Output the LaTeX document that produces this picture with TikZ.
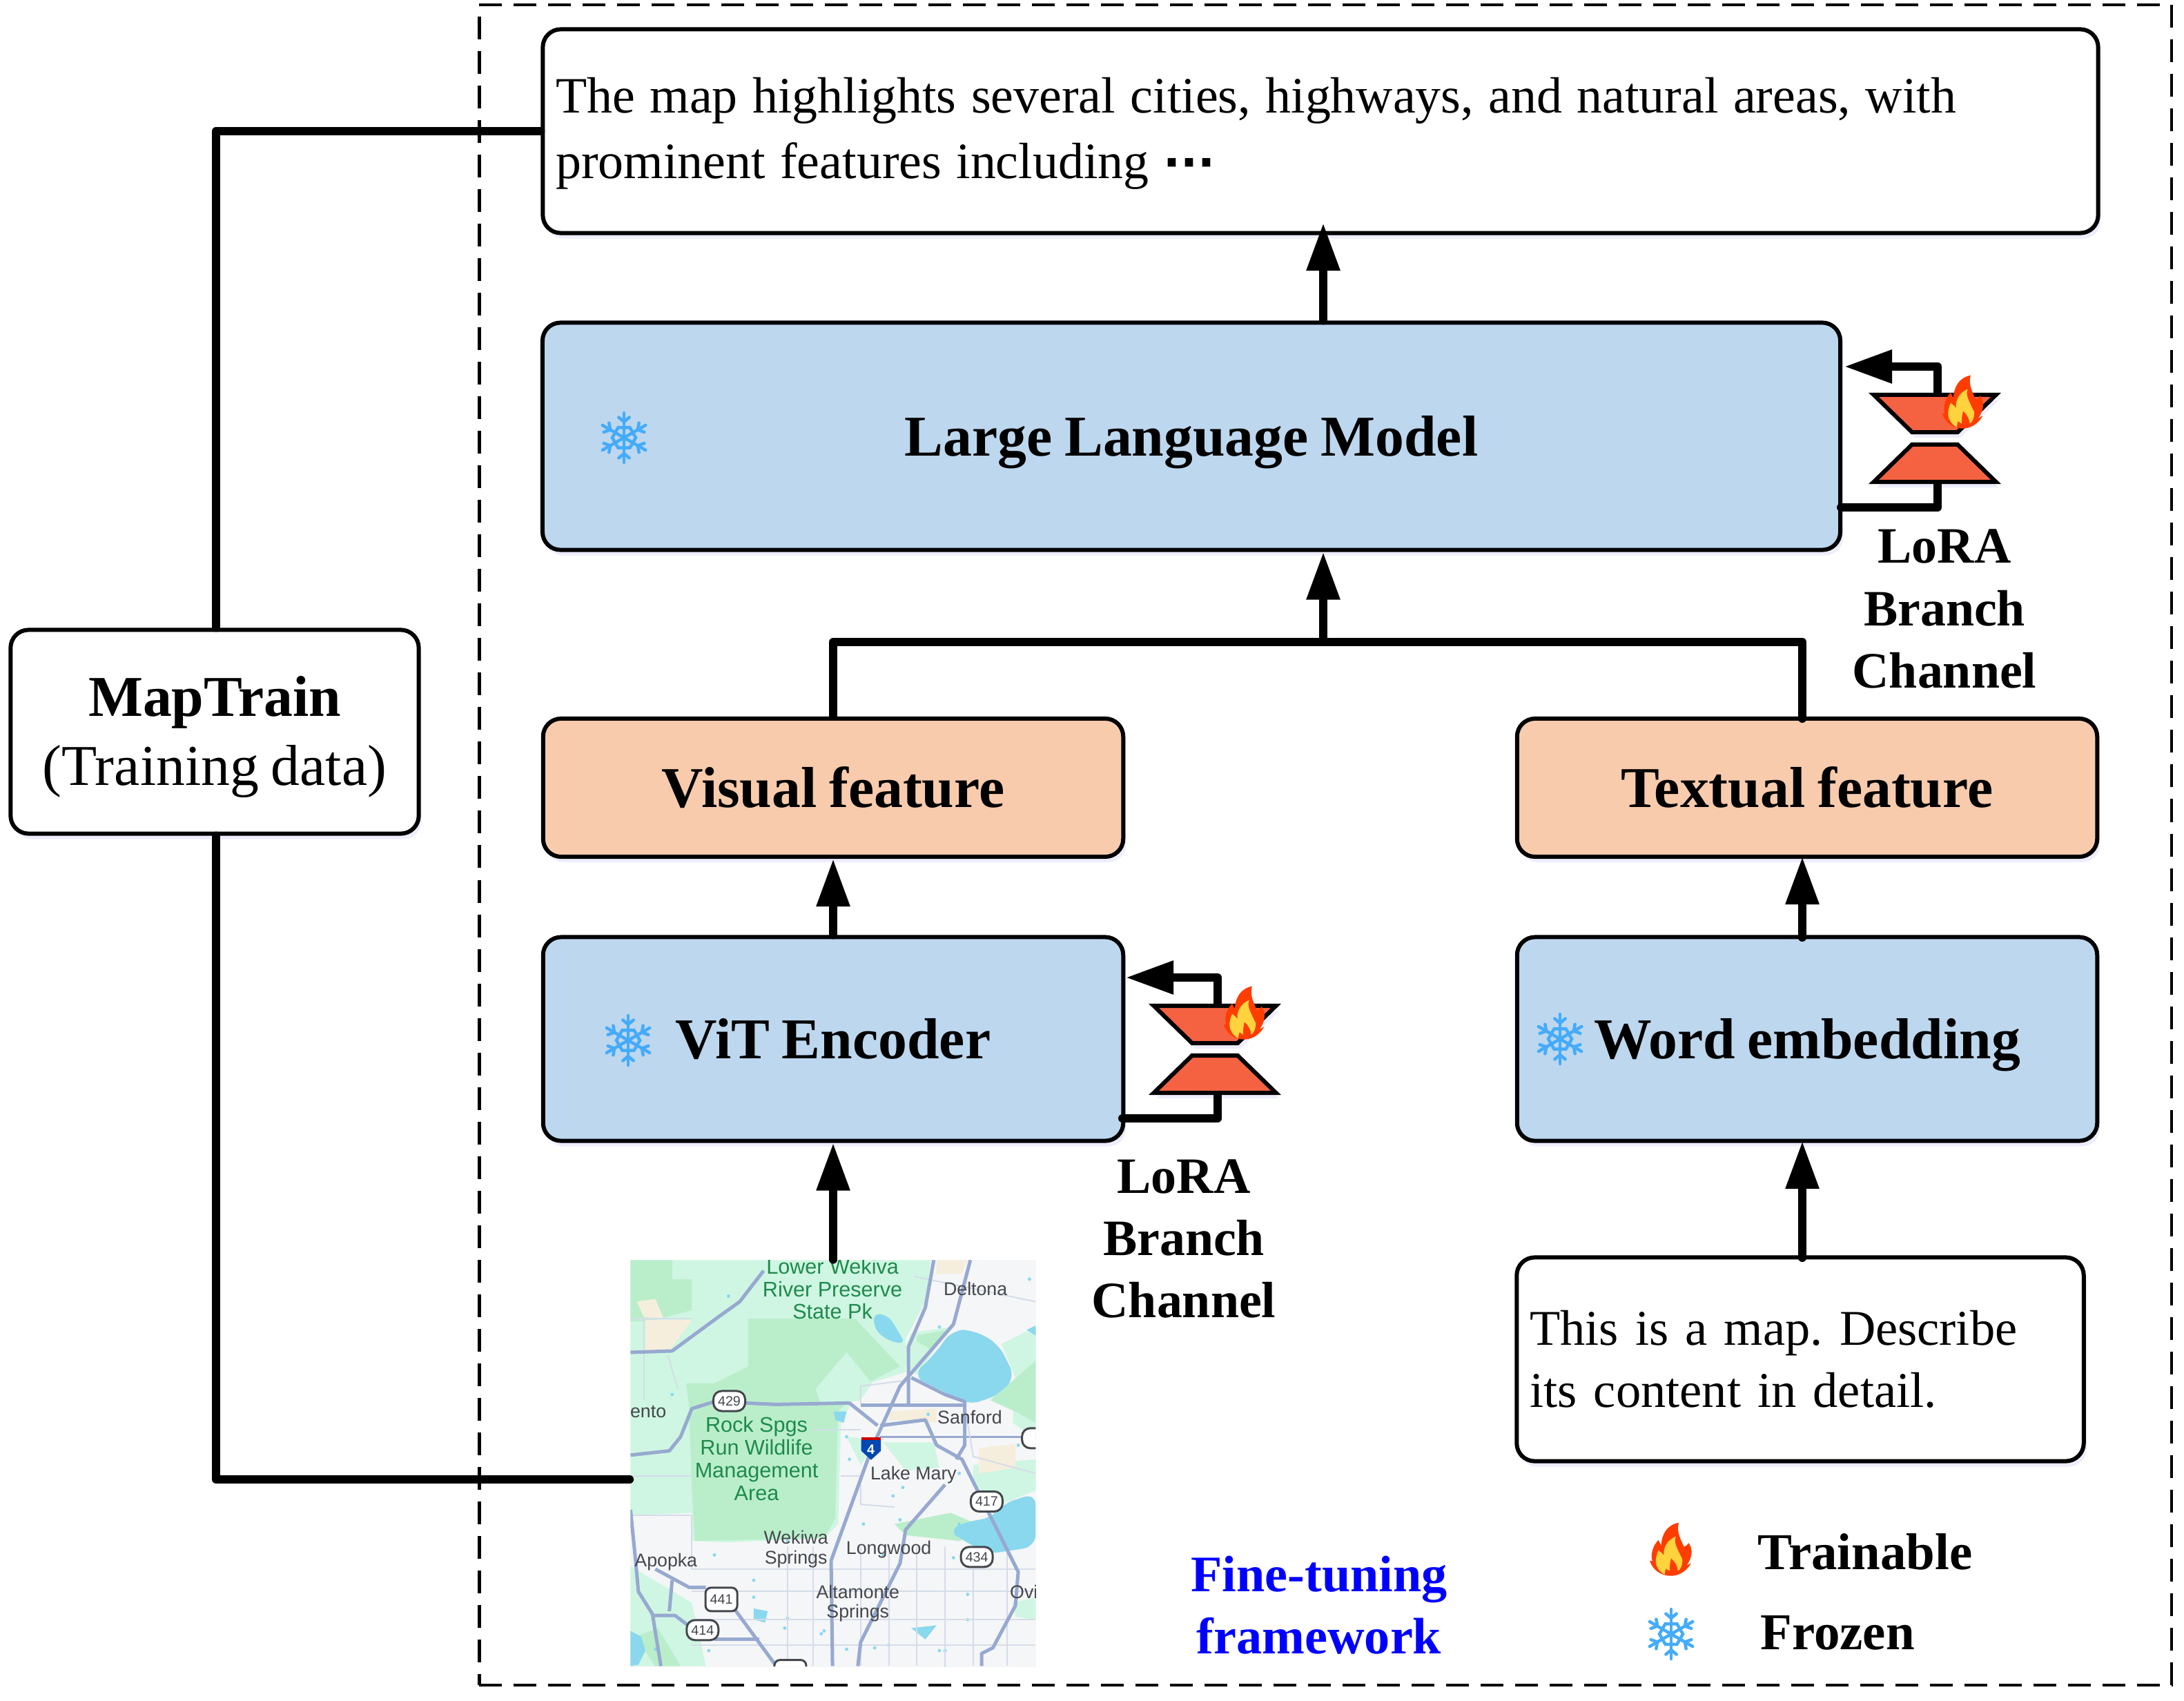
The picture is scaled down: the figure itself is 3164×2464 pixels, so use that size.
\documentclass[tikz,border=0pt]{standalone}
\usepackage{fontspec}
\setmainfont{Liberation Serif}[WordSpace=0.85]
\newfontfamily\mapfont{Liberation Sans}
\newfontfamily\dotfont{DejaVu Sans}
\usepackage{xcolor}
\usetikzlibrary{shapes.geometric,arrows.meta,positioning,shadows}
\definecolor{modelblue}{HTML}{BDD7EE}
\definecolor{featureorange}{HTML}{F8CBAD}
\definecolor{loraorange}{HTML}{F46242}
\definecolor{flakeblue}{HTML}{45ABFA}
\definecolor{flameouter}{HTML}{FF3D00}
\definecolor{flameinner}{HTML}{FFD33D}
\definecolor{mapbase}{HTML}{F5F6F7}
\definecolor{maplight}{HTML}{CFF6E2}
\definecolor{mapmid}{HTML}{BAEECB}
\definecolor{maptan}{HTML}{F6EEDC}
\definecolor{mapwater}{HTML}{8AD8EE}
\definecolor{maproad}{HTML}{97A9D0}
\definecolor{mapgrid}{HTML}{D5DCE9}
\definecolor{mapgreentext}{HTML}{1E8A4C}
\definecolor{mapdarktext}{HTML}{44474C}
\tikzset{
    flame/.pic={
        \fill[fill=flameouter] (11.5,-43.5) .. controls (7,-30) and (15,-14) .. (19,-4)
            .. controls (22,-5) and (25,-7) .. (26,-10) .. controls (32,-2) and (33,12) .. (23,27)
            -- (30,23) .. controls (22,38) and (10,44) .. (-1,44) .. controls (-15,44) and (-28,34) .. (-32,19)
            -- (-28,20) .. controls (-31,10) and (-28,-5) .. (-19,-15) -- (-15,-6)
            .. controls (-14,-25) and (-6,-40) .. (11.5,-43.5) -- cycle;
        \fill[fill=flameinner] (7,-21) .. controls (-6,-15) and (-12,-2) .. (-11,10)
            .. controls (-13,7) and (-16,4) .. (-19,2) .. controls (-24,15) and (-27,30) .. (-10,42)
            -- (-8,32) -- (-2,36) .. controls (-3,28) and (-1,20) .. (0,15)
            .. controls (5,20) and (10,28) .. (10,36) .. controls (18,30) and (18,15) .. (15,13)
            .. controls (10,0) and (3,-10) .. (7,-21) -- cycle;
    },
    snowflake/.pic={
        \draw[flakeline] (0:17) -- (60:17) -- (120:17) -- (180:17) -- (240:17) -- (300:17) -- cycle;
        \foreach \ang in {30,90,...,330}{
            \draw[flakeline] (0,0) -- (\ang:36);
            \draw[flakeline] (\ang:23) -- ++(\ang+50:10);
            \draw[flakeline] (\ang:23) -- ++(\ang-50:10);
        }
    }
}
\begin{document}
\frenchspacing
\begin{tikzpicture}[
    x=0.01cm, y=-0.01cm,
    % Boxes
    softshadow/.style={drop shadow={shadow xshift=0.4mm, shadow yshift=-0.8mm, fill=blue!40!white, opacity=0.18}},
    basebox/.style={rectangle, draw=black, line width=0.6mm, rounded corners=2.6mm, inner sep=0pt, softshadow},
    modelbox/.style={basebox, fill=modelblue, text height=16pt, text depth=0pt, font=\fontsize{23.8}{28}\selectfont\bfseries},
    featurebox/.style={basebox, fill=featureorange, minimum width=84mm, minimum height=20mm, text height=16pt, text depth=0pt, font=\fontsize{23.8}{28}\selectfont\bfseries},
    textbox/.style={basebox, fill=white, align=left},
    % LoRA branch
    lora/.style={trapezium, trapezium stretches=true, trapezium left angle=50, trapezium right angle=50, draw=black, fill=loraorange, line width=0.6mm, minimum width=17.7mm, minimum height=5.4mm, inner sep=1pt, softshadow},
    loralabel/.style={align=center, font=\fontsize{21}{25.6}\selectfont\bfseries},
    % Connectors
    plainline/.style={line width=1.2mm, line cap=round, line join=round},
    flowline/.style={plainline, -{Triangle[length=6.9mm,width=4.6mm]}},
    flakeline/.style={draw=flakeblue, line width=0.45mm, line cap=round},
    % Map
    mapfield/.style={fill=#1},
    maproadline/.style={draw=maproad, line width=0.5mm, line join=round},
    mapgridline/.style={draw=mapgrid, line width=0.2mm},
    mapshield/.style={rectangle, draw=mapdarktext, fill=white, line width=0.3mm, rounded corners=1.2mm, minimum width=4.6mm, minimum height=2.9mm, inner sep=0pt, text=mapdarktext, font=\mapfont\fontsize{5.6}{6}\selectfont},
    greenlabel/.style={align=center, text=mapgreentext, inner sep=0pt, font=\mapfont\fontsize{8.7}{9.3}\selectfont},
    darklabel/.style={align=center, text=mapdarktext, inner sep=0pt, font=\mapfont\fontsize{7.6}{8.1}\selectfont}
]
\useasboundingbox (0,0) rectangle (3164,2464);

% Fine-tuning framework frame
\node[rectangle, draw=black, dash pattern=on 3.3mm off 1.7mm, line width=0.45mm, minimum width=245mm, minimum height=243.3mm, inner sep=0pt] (frame) at (1920,1224) {};

% Boxes
\node[textbox, minimum width=225.2mm, minimum height=29.5mm, text width=221.4mm, font=\fontsize{21}{27}\selectfont] (answer) at (1913,190) {\spaceskip=6.1pt\rule{0pt}{16.5pt}The map highlights several cities, highways, and natural areas, with\\prominent features including\hspace{6pt}{\dotfont\bfseries\fontsize{18.7}{27}\selectfont ···}};
\node[modelbox, minimum width=187.9mm, minimum height=32.9mm] (llm) at (1726,632) {Large Language Model};
\node[featurebox] (visual) at (1207,1141) {Visual feature};
\node[featurebox] (textual) at (2618,1141) {Textual feature};
\node[modelbox, minimum width=84mm, minimum height=29.5mm] (vit) at (1207,1505) {ViT Encoder};
\node[modelbox, minimum width=84mm, minimum height=29.5mm] (word) at (2618,1505) {Word embedding};
\node[textbox, minimum width=82.1mm, minimum height=29.5mm, text width=78.3mm, font=\fontsize{20.6}{25.6}\selectfont] (prompt) at (2608,1969) {This is a map. Describe\\its content in detail.};
\node[basebox, fill=white, align=center, minimum width=59.1mm, minimum height=29.5mm, text depth=1pt, font=\fontsize{23.8}{28.4}\selectfont] (maptrain) at (311,1060) {\textbf{MapTrain}\\(Training data)};

% LoRA branches
\node[lora, shape border rotate=180] (loraupL) at (2803,599) {};
\node[lora] (loradownL) at (2803,671) {};
\node[lora, shape border rotate=180] (loraupV) at (1760,1484) {};
\node[lora] (loradownV) at (1760,1556) {};
\node[loralabel] (loratextL) at (2817,882) {LoRA\\Branch\\Channel};
\node[loralabel] (loratextV) at (1715,1794) {LoRA\\Branch\\Channel};
\coordinate (llmin) at (2672,531);
\coordinate (llmout) at (2667,735);
\coordinate (vitin) at (1631,1416);
\coordinate (vitout) at (1626,1620);
\draw[flowline] ([xshift=0.4mm]loraupL.north) |- (llmin);
\draw[plainline] ([xshift=0.4mm]loradownL.south) |- (llmout);
\draw[flowline] ([xshift=0.4mm]loraupV.north) |- (vitin);
\draw[plainline] ([xshift=0.4mm]loradownV.south) |- (vitout);

% Icons
\pic at (904,634) {snowflake};
\pic at (910,1507) {snowflake};
\pic at (2260,1505) {snowflake};
\pic[xscale=0.95, yscale=0.88] at (2844,582) {flame};
\pic[xscale=0.95, yscale=0.88] at (1803,1467) {flame};

% Map picture
\node[rectangle, fill=mapbase, minimum width=58.8mm, minimum height=58.9mm, inner sep=0pt] (mapimg) at (1207,2120) {};
\begin{scope}[shift={(880,1800)}, x=0.00408cm, y=-0.00408cm]
\clip (82,62) rectangle (1522,1505);
\fill[mapfield=maplight] (82,62) -- (1150,62) -- (1130,210) -- (1060,340) -- (1060,460) -- (900,510) -- (830,640) -- (820,1000) -- (770,1050) -- (430,1065) -- (300,1060) -- (300,960) -- (82,970) -- cycle;
\fill[mapfield=mapmid] (500,270) -- (880,270) -- (1040,440) -- (900,510) -- (820,600) -- (810,980) -- (770,1050) -- (310,1060) -- (300,880) -- (290,580) -- (280,500) -- (380,500) -- (500,440) -- cycle;
\fill[mapfield=mapmid] (82,62) -- (230,62) -- (230,130) -- (300,130) -- (300,240) -- (150,280) -- (82,280) -- cycle;
\fill[mapfield=maplight] (740,520) -- (850,390) -- (940,500) -- (900,560) -- (760,580) -- cycle;
\fill[mapfield=maplight] (82,1150) -- (300,1280) -- (350,1505) -- (82,1505) -- cycle;
\fill[mapfield=maplight] (1400,360) -- (1522,300) -- (1522,700) -- (1440,640) -- (1450,480) -- cycle;
\fill[mapfield=maplight] (1080,320) -- (1220,300) -- (1100,470) -- (1040,420) -- cycle;
\fill[mapfield=maplight] (1300,790) -- (1522,770) -- (1522,880) -- (1400,930) -- (1300,860) -- cycle;
\fill[mapfield=maplight] (980,710) -- (1160,710) -- (1180,800) -- (1060,810) -- cycle;
\fill[mapfield=maplight] (1440,1280) -- (1522,1260) -- (1522,1340) -- (1450,1330) -- cycle;
\fill[mapfield=maplight] (850,690) -- (960,700) -- (900,790) -- cycle;
\fill[mapfield=mapmid] (1020,1000) -- (1220,960) -- (1360,1020) -- (1250,1060) -- (1060,1040) -- cycle;
\fill[mapfield=mapmid] (1360,560) -- (1522,420) -- (1522,640) -- (1450,600) -- cycle;
\fill[mapfield=mapmid] (1100,330) -- (1210,310) -- (1150,380) -- (1100,350) -- cycle;
\fill[mapfield=mapmid] (100,1400) -- (180,1370) -- (260,1505) -- (170,1505) -- cycle;
\fill[mapfield=maptan] (135,275) -- (300,275) -- (220,385) -- (135,385) -- cycle;
\fill[mapfield=maptan] (105,210) -- (170,200) -- (200,270) -- (130,265) -- cycle;
\fill[mapfield=maptan] (1000,600) -- (1170,590) -- (1170,640) -- (1000,630) -- cycle;
\fill[mapfield=maptan] (1320,730) -- (1450,715) -- (1450,800) -- (1320,820) -- cycle;
\fill[mapfield=maptan] (1170,62) -- (1280,62) -- (1260,110) -- (1170,110) -- cycle;
% Lakes
\fill[mapfield=mapwater, rounded corners=5pt] (1085,470) -- (1160,400) -- (1225,310) -- (1300,310) -- (1390,360) -- (1450,480) -- (1400,530) -- (1350,560) -- (1270,575) -- (1200,530) -- (1130,500) -- cycle;
\fill[mapfield=mapwater, rounded corners=3pt] (945,250) -- (1000,260) -- (1060,360) -- (1000,350) -- (950,310) -- cycle;
\fill[mapfield=mapwater, rounded corners=5pt] (1210,1020) -- (1300,985) -- (1370,980) -- (1400,930) -- (1522,890) -- (1522,1080) -- (1400,1100) -- (1350,1105) -- (1250,1050) -- cycle;
\fill[mapfield=mapwater] (82,1380) -- (120,1400) -- (135,1450) -- (110,1500) -- (82,1505) -- cycle;
\fill[mapfield=mapwater] (1490,310) -- (1522,295) -- (1522,330) -- cycle;
\fill[mapfield=mapwater] (520,1300) -- (570,1310) -- (560,1350) -- (520,1340) -- cycle;
\fill[mapfield=mapwater] (1080,1370) -- (1170,1360) -- (1130,1410) -- cycle;
\fill[mapfield=mapwater] (805,600) -- (850,600) -- (840,640) -- (810,630) -- cycle;
\foreach \px/\py in {230/540,430/190,640/1335,850/690,860/770,1015/900,1040/985,520/1260,520/1200,630/1370,770/1380,1200/1450,1250/1000,640/1060,760/1390,910/1000,1280/1250,1280/1340,360/1450,950/1440,380/1110,810/1290,1000/1430,1320/1040,1180/1450,1500/130,1180/300,980/1110,850/1445,170/1445,1200/1510,1270/660,1140/610,1250/820,1460/720,1050/870,1230/1120}{
    \fill[mapwater] (\px,\py) circle (6);
}
% Minor streets
\foreach \yy in {1160,1240,1340,1430}{
    \draw[mapgridline] (300,\yy) -- (1522,\yy);
}
\foreach \xx in {640,730,900,1000,1100,1200,1300,1420}{
    \draw[mapgridline] (\xx,1080) -- (\xx,1505);
}
\draw[mapgridline] (82,270) -- (300,270);
\draw[mapgridline] (82,970) -- (300,970) -- (300,1160);
\draw[mapgridline] (82,830) -- (300,830);
\draw[mapgridline] (830,830) -- (900,830);
\draw[mapgridline] (730,665) -- (900,665);
\draw[maproadline, line width=0.3mm] (970,690) -- (1522,690);
\draw[mapgridline] (130,270) -- (130,560);
\draw[mapgridline] (215,400) -- (250,520);
\draw[mapgridline] (900,570) -- (900,510) -- (1060,490);
\draw[mapgridline] (900,860) -- (900,930) -- (1020,940);
\draw[mapgridline] (1090,120) -- (1522,210);
\draw[mapgridline] (1270,580) -- (1300,760) -- (1522,820);
% Main roads
\draw[maproadline] (800,1505) -- (795,1130) -- (940,730) -- (1040,510) -- (1230,290) -- (1290,62);
\draw[maproadline] (1160,62) -- (1130,230) -- (1070,370) -- (1070,580);
\draw[maproadline] (82,755) -- (220,740) -- (260,690) -- (300,590) -- (380,565) -- (600,575) -- (860,570) -- (960,650);
\draw[maproadline] (82,390) -- (230,385) -- (400,260) -- (470,210) -- (555,100);
\draw[maproadline] (1080,480) -- (1200,540) -- (1270,565) -- (1270,720) -- (1240,770);
\draw[maproadline] (900,578) -- (1270,578);
\draw[maproadline] (970,650) -- (1130,630) -- (1170,720) -- (1260,770) -- (1340,930) -- (1460,1170) -- (1450,1290) -- (1370,1440) -- (1330,1460) -- (1330,1505);
\draw[maproadline] (82,950) -- (100,1130) -- (110,1240) -- (160,1320) -- (190,1505);
\draw[maproadline] (170,1160) -- (290,1225) -- (350,1225);
\draw[maproadline] (160,1325) -- (240,1325) -- (300,1370);
\draw[maproadline] (230,1200) -- (220,1310);
\draw[maproadline] (380,1410) -- (540,1410);
\draw[maproadline] (450,1300) -- (600,1505);
\draw[maproadline] (1200,860) -- (1060,1020) -- (1040,1140) -- (900,1420) -- (890,1505);
% Route shields
\node[mapshield] (shieldA) at (433,563) {429};
\node[mapshield] (shieldB) at (1348,920) {417};
\node[mapshield] (shieldC) at (1313,1117) {434};
\node[mapshield] (shieldD) at (338,1377) {414};
\node[mapshield, rounded corners=0.8mm, minimum height=3.4mm] (shieldE) at (405,1268) {441};
\node[mapshield] (shieldF) at (1530,695) {};
\node[mapshield, rounded corners=0.8mm, minimum height=3.4mm] (shieldG) at (650,1525) {};
\fill[blue!60!cyan!70!black] (902,702) -- (972,702) -- (972,740) -- (937,772) -- (902,740) -- cycle;
\fill[red!80!black] (902,702) -- (902,692) -- (972,692) -- (972,702) -- cycle;
\node[text=white, inner sep=0pt, font=\mapfont\fontsize{5.6}{6}\selectfont\bfseries] (shieldH) at (936,735) {4};
% Place names
\node[greenlabel] (preserve) at (800,165) {Lower Wekiva\\River Preserve\\State Pk};
\node[greenlabel] (wildlife) at (530,768) {Rock Spgs\\Run Wildlife\\Management\\Area};
\node[darklabel] (deltona) at (1308,165) {Deltona};
\node[darklabel] (sorrento) at (145,600) {ento};
\node[darklabel] (sanford) at (1288,620) {Sanford};
\node[darklabel] (lakemary) at (1088,825) {Lake Mary};
\node[darklabel] (wekiwa) at (670,1090) {Wekiwa\\Springs};
\node[darklabel] (longwood) at (1000,1090) {Longwood};
\node[darklabel] (apopka) at (208,1135) {Apopka};
\node[darklabel] (altamonte) at (890,1282) {Altamonte\\Springs};
\node[darklabel] (oviedo) at (1480,1240) {Ovi};
\end{scope}

% Data flow
\coordinate (merge) at (1917,930);
\coordinate (answerin) at (1917,323);
\coordinate (trainup) at (313,190);
\coordinate (traindown) at (313,2143);
\draw[flowline] (merge |- llm.north) -- (answerin);
\draw[flowline] (merge) -- (merge |- llm.south);
\draw[plainline] (visual.north) |- (merge);
\draw[plainline] (2611,1041) |- (merge);
\draw[flowline] (vit.north) -- (visual.south);
\draw[flowline] (2611,1358) -- (2611,1241);
\draw[flowline] (mapimg.north) -- (vit.south);
\draw[flowline] (2611,1822) -- (2611,1653);
\draw[plainline] (maptrain.north -| trainup) |- (answer.west |- trainup);
\draw[plainline] (maptrain.south -| traindown) |- (mapimg.west |- traindown);

% Legend
\pic[xscale=0.97, yscale=0.88] at (2421,2244) {flame};
\pic at (2421,2367) {snowflake};
\node[font=\fontsize{21.3}{24}\selectfont\bfseries] (trainable) at (2702,2248) {Trainable};
\node[font=\fontsize{21.3}{24}\selectfont\bfseries] (frozen) at (2662,2365) {Frozen};
\node[align=center, text=blue, font=\fontsize{21.1}{25.6}\selectfont\bfseries] (finetuning) at (1911,2325) {Fine-tuning\\framework};

\end{tikzpicture}
\end{document}
